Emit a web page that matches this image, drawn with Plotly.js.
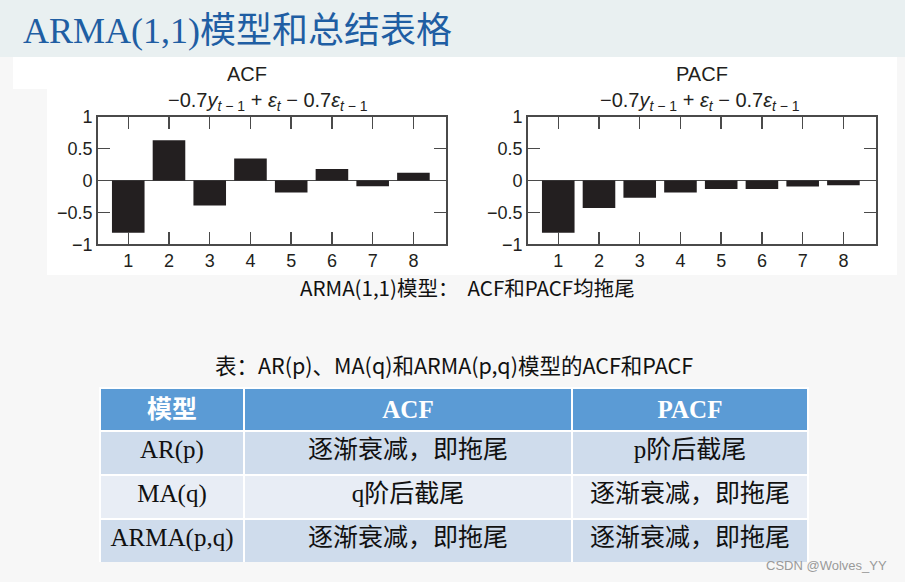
<!DOCTYPE html>
<html>
<head>
<meta charset="utf-8">
<script src="https://cdn.plot.ly/plotly-3.0.1.min.js"></script>
<style>html,body{margin:0;padding:0;background:#f7f7f7;}#chart{width:905px;height:582px;}</style>
</head>
<body>
<div id="chart"></div>
<script>
// ---- data ----
const lags = [1, 2, 3, 4, 5, 6, 7, 8];
const acfValues = [-0.82, 0.63, -0.39, 0.345, -0.19, 0.18, -0.09, 0.12];
const pacfValues = [-0.82, -0.43, -0.27, -0.19, -0.135, -0.135, -0.095, -0.075];
const yTickVals = [-1, -0.5, 0, 0.5, 1];
const yTickText = ['\u22121', '\u22120.5', '0', '0.5', '1'];
const tableHeader = ['<b>模型</b>', '<b>ACF</b>', '<b>PACF</b>'];
const tableModels = ['AR(p)', 'MA(q)', 'ARMA(p,q)'];
const tableACF = ['逐渐衰减，即拖尾', 'q阶后截尾', '逐渐衰减，即拖尾'];
const tablePACF = ['p阶后截尾', '逐渐衰减，即拖尾', '逐渐衰减，即拖尾'];

const W = 905, H = 582;
const px = v => v / W;
const py = v => 1 - v / H;

const barColor = '#231f20';
const frame = '#4a4a4a';
const tickFont = {family: 'Liberation Sans, Arial, sans-serif', size: 18, color: '#231f20'};

function xAx(d) {
  return {domain: d, range: [0.25, 8.8], tickvals: lags, ticks: 'inside', ticklen: 12, tickwidth: 1.5,
    tickcolor: frame, showline: true, linecolor: frame, linewidth: 1.5, mirror: 'ticks',
    showgrid: false, zeroline: false, tickfont: tickFont, fixedrange: true};
}
function yAx(anchor) {
  return {domain: [py(244.3), py(116.7)], range: [-1, 1], tickvals: yTickVals, ticktext: yTickText,
    ticks: 'inside', ticklen: 12, tickwidth: 1.5, tickcolor: frame, showline: true, linecolor: frame,
    linewidth: 1.5, mirror: 'ticks', showgrid: false, zeroline: true, zerolinecolor: frame,
    zerolinewidth: 1.2, tickfont: tickFont, anchor: anchor, fixedrange: true};
}

const data = [
  {type: 'bar', x: lags, y: acfValues, xaxis: 'x', yaxis: 'y', marker: {color: barColor, line: {width: 0}}, hoverinfo: 'skip'},
  {type: 'bar', x: lags, y: pacfValues, xaxis: 'x2', yaxis: 'y2', marker: {color: barColor, line: {width: 0}}, hoverinfo: 'skip'},
  {type: 'table',
    domain: {x: [px(100), px(808)], y: [py(562), py(388)]},
    columnwidth: [144, 328, 236],
    header: {values: tableHeader, height: 40, align: 'center',
      fill: {color: '#5b9bd5'}, line: {color: '#ffffff', width: 2.5},
      font: {family: 'Liberation Serif, Noto Sans CJK SC', size: 25, color: '#ffffff'}},
    cells: {values: [tableModels, tableACF, tablePACF], height: 44, align: 'center',
      fill: {color: [['#cfdcec', '#e8edf5', '#cfdcec']]}, line: {color: '#ffffff', width: 2.5},
      font: {family: 'Liberation Serif, Noto Sans CJK SC', size: 25, color: '#111111'}}
  }
];

const sub = '\u22120.7<i>y</i><sub><i>t</i> \u2212 1</sub> + <i>\u03b5</i><sub><i>t</i></sub> \u2212 0.7<i>\u03b5</i><sub><i>t</i> \u2212 1</sub>';
const annFont = {family: 'Liberation Sans, Arial, sans-serif', size: 20, color: '#231f20'};
const subFont = {family: 'Liberation Sans, Arial, sans-serif', size: 20, color: '#231f20'};
const capFont = {family: 'Noto Sans CJK SC, sans-serif', size: 20.5, color: '#111111'};

const layout = {
  width: W, height: H,
  margin: {l: 0, r: 0, t: 0, b: 0},
  paper_bgcolor: '#f7f7f7', plot_bgcolor: '#ffffff',
  showlegend: false, bargap: 0.2,
  xaxis: xAx([px(97.7), px(446)]),
  yaxis: yAx('x'),
  xaxis2: Object.assign(xAx([px(527.7), px(876)]), {anchor: 'y2'}),
  yaxis2: yAx('x2'),
  shapes: [
    {type: 'rect', xref: 'paper', yref: 'paper', x0: 0, x1: 1, y0: py(57), y1: 1, fillcolor: '#e9f0f1', line: {width: 0}, layer: 'below'},
    {type: 'rect', xref: 'paper', yref: 'paper', x0: px(13), x1: px(897), y0: py(89), y1: py(57), fillcolor: '#ffffff', line: {width: 0}, layer: 'below'},
    {type: 'rect', xref: 'paper', yref: 'paper', x0: px(47), x1: px(897), y0: py(275), y1: py(89), fillcolor: '#ffffff', line: {width: 0}, layer: 'below'}
  ],
  annotations: [
    {xref: 'paper', yref: 'paper', x: px(21), y: py(31), xanchor: 'left', yanchor: 'middle', showarrow: false,
      text: 'ARMA(1,1)模型和总结表格', font: {family: 'Liberation Serif, Noto Sans CJK SC', size: 36, color: '#1f5ea3'}},
    {xref: 'paper', yref: 'paper', x: px(247), y: py(74), xanchor: 'center', yanchor: 'middle', showarrow: false, text: 'ACF', font: annFont},
    {xref: 'paper', yref: 'paper', x: px(268), y: py(101), xanchor: 'center', yanchor: 'middle', showarrow: false, text: sub, font: subFont},
    {xref: 'paper', yref: 'paper', x: px(702), y: py(74), xanchor: 'center', yanchor: 'middle', showarrow: false, text: 'PACF', font: annFont},
    {xref: 'paper', yref: 'paper', x: px(700), y: py(101), xanchor: 'center', yanchor: 'middle', showarrow: false, text: sub, font: subFont},
    {xref: 'paper', yref: 'paper', x: px(468), y: py(287), xanchor: 'center', yanchor: 'middle', showarrow: false,
      text: 'ARMA(1,1)模型：  ACF和PACF均拖尾', font: capFont},
    {xref: 'paper', yref: 'paper', x: px(454), y: py(364), xanchor: 'center', yanchor: 'middle', showarrow: false,
      text: '表：AR(p)、MA(q)和ARMA(p,q)模型的ACF和PACF', font: {family: 'Noto Sans CJK SC, sans-serif', size: 21.5, color: '#111111'}},
    {xref: 'paper', yref: 'paper', x: px(889), y: py(565), xanchor: 'right', yanchor: 'middle', showarrow: false,
      text: 'CSDN @Wolves_YY', font: {family: 'Liberation Sans, Arial, sans-serif', size: 13, color: '#9a9a9a'}}
  ]
};

Plotly.newPlot('chart', data, layout, {staticPlot: true, displayModeBar: false});
</script>
</body>
</html>
